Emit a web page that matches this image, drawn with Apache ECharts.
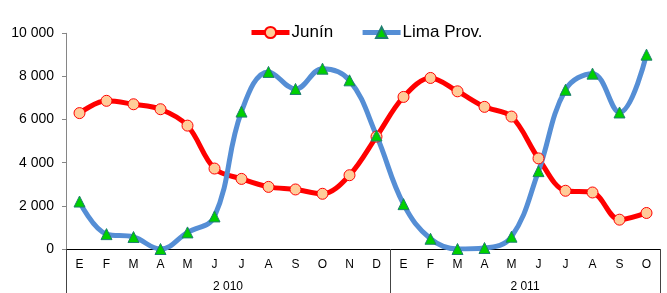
<!DOCTYPE html>
<html>
<head>
<meta charset="utf-8">
<script src="https://cdn.jsdelivr.net/npm/echarts@6/dist/echarts.min.js"></script>
<style>
  html, body { margin: 0; padding: 0; background: #fff; }
  #chart { width: 667px; height: 293px; }
</style>
</head>
<body>
<div id="chart"></div>
<script>
// months per year (Spanish initials)
const months2010 = ['E', 'F', 'M', 'A', 'M', 'J', 'J', 'A', 'S', 'O', 'N', 'D'];
const months2011 = ['E', 'F', 'M', 'A', 'M', 'J', 'J', 'A', 'S', 'O'];
const years = ['2 010', '2 011'];

const junin = [6300, 6870, 6710, 6480, 5720, 3730, 3250, 2880, 2760, 2560, 3420, 5210,
               7050, 7930, 7310, 6590, 6140, 4200, 2700, 2620, 1360, 1670];
const lima = [2200, 690, 555, 0, 770, 1510, 6370, 8210, 7420, 8360, 7820, 5260,
              2080, 475, 0, 45, 570, 3610, 7380, 8130, 6330, 9010];

const categories = months2010.concat(months2011);
const spans = [months2010.length, months2011.length];
// group boundaries and year label centres along the category axis
const starts = [0, spans[0]];
const centers = {};
centers[spans[0] / 2] = years[0];
centers[spans[0] + spans[1] / 2] = years[1];

const font = 'Liberation Sans, Arial, sans-serif';

const chart = echarts.init(document.getElementById('chart'), null, { renderer: 'canvas' });

var option = {
    animation: false,
    textStyle: { fontFamily: font },
    legend: {
        left: 244,
        top: 19,
        itemWidth: 38,
        itemHeight: 14,
        itemGap: 27,
        lineStyle: { width: 5 },
        textStyle: { fontSize: 17, color: '#000', fontFamily: font, padding: [0, 0, 0, -3] },
        data: ['Junín', 'Lima Prov.']
    },
    grid: { left: 66, right: 7, top: 33.3, bottom: 43.5 },
    xAxis: [
        {
            type: 'category',
            data: categories,
            boundaryGap: true,
            axisLine: { lineStyle: { color: '#000', width: 1 } },
            axisTick: {
                show: true,
                length: 44,
                interval: function (i) { return starts.indexOf(i) >= 0; },
                lineStyle: { color: '#444' }
            },
            axisLabel: { interval: 0, margin: 10, fontSize: 12, color: '#000', fontFamily: font }
        },
        {
            type: 'value',
            position: 'bottom',
            min: 0,
            max: categories.length,
            interval: 1,
            axisLine: { show: false },
            axisTick: { show: false },
            splitLine: { show: false },
            axisLabel: {
                margin: 32,
                fontSize: 12,
                color: '#000',
                fontFamily: font,
                formatter: function (v) { return centers[v] || ''; }
            }
        }
    ],
    yAxis: {
        type: 'value',
        min: 0,
        max: 10000,
        interval: 2000,
        axisLine: { show: true, lineStyle: { color: '#868686' } },
        axisTick: { show: true, length: 4, lineStyle: { color: '#868686' } },
        splitLine: { show: false },
        axisLabel: {
            margin: 12,
            fontSize: 14,
            color: '#000',
            fontFamily: font,
            formatter: function (v) { return String(v).replace(/\B(?=(\d{3})+(?!\d))/g, ' '); }
        }
    },
    series: [
        {
            name: 'Junín',
            type: 'line',
            data: junin,
            smooth: 0.35,
            symbol: 'circle',
            symbolSize: 11,
            lineStyle: { color: '#FF0000', width: 5 },
            itemStyle: { color: '#FFCC99', borderColor: '#FF0000', borderWidth: 1 }
        },
        {
            name: 'Lima Prov.',
            type: 'line',
            data: lima,
            smooth: 0.4,
            symbol: 'triangle',
            symbolSize: 11,
            lineStyle: { color: '#558ED5', width: 5 },
            itemStyle: { color: '#00D000', borderColor: '#1F7F6F', borderWidth: 1 }
        }
    ]
};
chart.setOption(option, true);
</script>
</body>
</html>
